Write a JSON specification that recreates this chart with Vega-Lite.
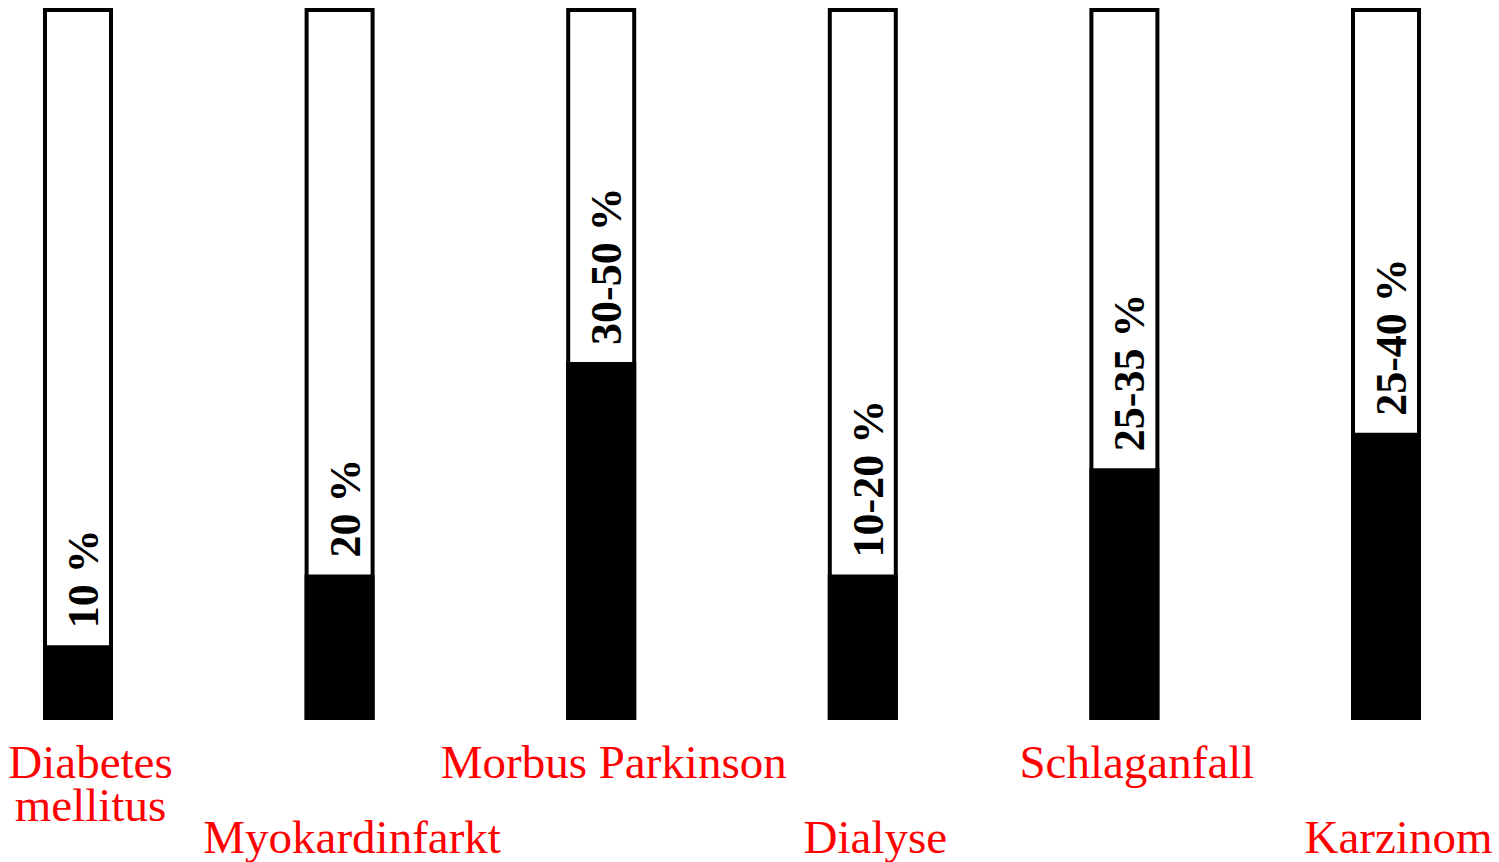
{
  "$schema": "https://vega.github.io/schema/vega-lite/v6.json",
  "autosize": "none",
  "width": 1308,
  "height": 708,
  "padding": {"left": 78, "top": 10, "right": 113, "bottom": 144},
  "background": "white",
  "config": {"view": {"stroke": null}},
  "data": {
    "values": [
      {"krankheit": "Diabetes mellitus", "von": 10, "bis": 10, "anteil": "10 %"},
      {"krankheit": "Myokardinfarkt", "von": 20, "bis": 20, "anteil": "20 %"},
      {"krankheit": "Morbus Parkinson", "von": 30, "bis": 50, "anteil": "30-50 %"},
      {"krankheit": "Dialyse", "von": 10, "bis": 20, "anteil": "10-20 %"},
      {"krankheit": "Schlaganfall", "von": 25, "bis": 35, "anteil": "25-35 %"},
      {"krankheit": "Karzinom", "von": 25, "bis": 40, "anteil": "25-40 %"}
    ]
  },
  "encoding": {
    "x": {
      "field": "krankheit",
      "type": "nominal",
      "sort": null,
      "scale": {"type": "point", "padding": 0},
      "axis": {
        "title": null,
        "domain": false,
        "ticks": false,
        "labelAngle": 0,
        "labelFont": "Liberation Serif",
        "labelFontSize": 47,
        "labelColor": "#ff0000",
        "labelBaseline": "top",
        "labelAlign": "center",
        "labelPadding": {
          "condition": {"test": "indexof(['Myokardinfarkt', 'Dialyse', 'Karzinom'], datum.value) >= 0", "value": 97},
          "value": 22
        },
        "labelLineHeight": 43,
        "labelOffset": 12,
        "labelOverlap": false,
        "labelBound": false,
        "labelFlush": false,
        "labelLimit": 0,
        "labelExpr": "datum.value == 'Diabetes mellitus' ? ['Diabetes', 'mellitus'] : datum.value"
      }
    }
  },
  "layer": [
    {
      "mark": {"type": "bar", "width": 66, "fill": "white", "stroke": "black", "strokeWidth": 4},
      "encoding": {
        "y": {"datum": 100, "type": "quantitative", "scale": {"domain": [0, 100], "nice": false}, "axis": null},
        "y2": {"datum": 0}
      }
    },
    {
      "mark": {"type": "bar", "width": 66, "fill": "black", "stroke": "black", "strokeWidth": 4},
      "encoding": {
        "y": {"field": "bis", "type": "quantitative", "scale": {"domain": [0, 100], "nice": false}, "axis": null},
        "y2": {"datum": 0}
      }
    },
    {
      "mark": {
        "type": "text",
        "angle": 270,
        "align": "left",
        "baseline": "alphabetic",
        "dx": 19,
        "dy": 20,
        "font": "Liberation Serif",
        "fontWeight": "bold",
        "fontSize": 44,
        "color": "black"
      },
      "encoding": {
        "y": {"field": "bis", "type": "quantitative", "scale": {"domain": [0, 100], "nice": false}, "axis": null},
        "text": {"field": "anteil"}
      }
    }
  ]
}
